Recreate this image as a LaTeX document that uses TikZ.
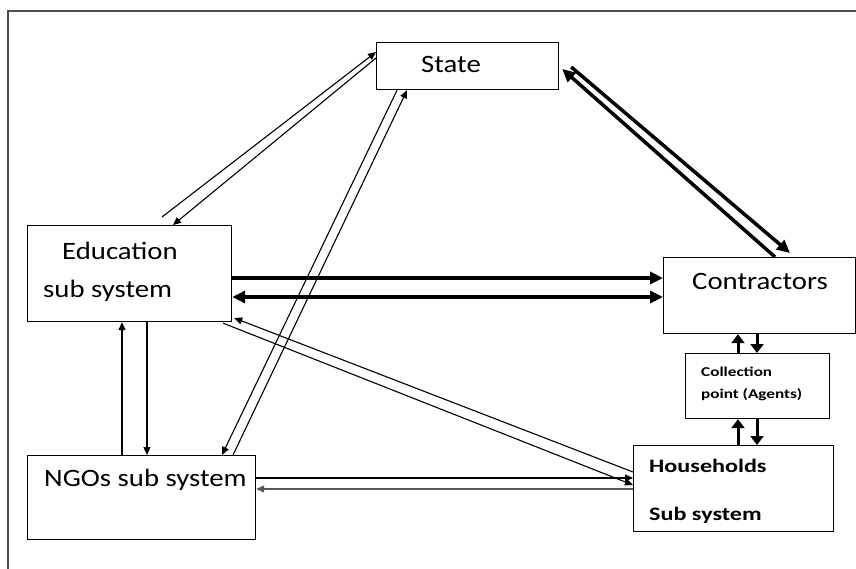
\documentclass[tikz,border=0pt]{standalone}
\usepackage{fontspec}
\setmainfont[FakeStretch=1.15]{Carlito}
\newfontfamily\widefont[FakeStretch=1.27]{Carlito}
\usetikzlibrary{arrows.meta}

\begin{document}
\begin{tikzpicture}[x=1pt, y=-1pt,
  box/.style={draw, line width=1.2pt, inner sep=0pt, anchor=north west},
  lbl/.style={anchor=base west, inner sep=0pt, font=\fontsize{25}{30}\selectfont},
  blbl/.style={anchor=base west, inner sep=0pt, font=\widefont\bfseries\fontsize{19}{23}\selectfont},
  slbl/.style={anchor=base west, inner sep=0pt, font=\widefont\bfseries\fontsize{13.5}{16}\selectfont},
  thin/.style={line width=1.1pt, -{Triangle[length=8pt,width=7pt]}},
  thick/.style={line width=3.5pt, -{Triangle[length=13pt,width=12pt]}},
  stub/.style={line width=3pt, -{Triangle[length=9pt,width=13pt]}}]
  \useasboundingbox (0,0) rectangle (856,569);
  \draw[gray!60!black, line width=2pt] (8,569) |- (856,11);

  % boxes
  \node[box, minimum width=182pt, minimum height=47pt] (state) at (376,42) {};
  \node[box, minimum width=204pt, minimum height=96pt] (edu) at (27,225) {};
  \node[box, minimum width=192pt, minimum height=76pt] (contr) at (663,257) {};
  \node[box, minimum width=144pt, minimum height=65pt] (coll) at (685,353) {};
  \node[box, minimum width=200pt, minimum height=86pt] (hh) at (633,445) {};
  \node[box, minimum width=228pt, minimum height=84pt] (ngo) at (27,455) {};

  % texts
  \node[lbl] (state-t) at (421,73) {State};
  \node[lbl] (edu-t1) at (62,260) {Education};
  \node[lbl] (edu-t2) at (43,297) {sub system};
  \node[lbl] (contr-t) at (692,289) {Contractors};
  \node[lbl] (ngo-t) at (44,486) {NGOs sub system};
  \node[slbl] (coll-t1) at (701,376) {Collection};
  \node[slbl] (coll-t2) at (701,398) {point (Agents)};
  \node[blbl] (hh-t1) at (649,472) {Households};
  \node[blbl] (hh-t2) at (649,520) {Sub system};

  % state links
  \draw[thin] ([xshift=135pt,yshift=8pt]edu.north west) -- ([yshift=-10pt]state.north west);
  \draw[thin] ([yshift=-16pt]state.north west) -- ([xshift=146pt]edu.north west);
  \draw[thin] ([xshift=21pt]state.south west) -- ([xshift=195pt]ngo.north west);
  \draw[thin] ([xshift=206pt]ngo.north west) -- ([xshift=31pt]state.south west);
  \draw[thick] ([xshift=12pt,yshift=-25pt]state.north east) -- ([xshift=127pt,yshift=4pt]contr.north west);
  \draw[thick] ([xshift=112pt]contr.north west) -- ([xshift=3pt,yshift=-27pt]state.north east);

  % education links
  \draw[thick] ([yshift=-53pt]edu.north east) -- ([yshift=-21pt]contr.north west);
  \draw[thick, {Triangle[length=13pt,width=12pt]}-{Triangle[length=13pt,width=12pt]}]
    ([yshift=-72pt]edu.north east) -- ([yshift=-40pt]contr.north west);
  \draw[thin] ([xshift=-9pt,yshift=-1pt]edu.south east) -- ([yshift=-40pt]hh.north west);
  \draw[thin] ([yshift=-27pt]hh.north west) -- ([xshift=2pt,yshift=-93pt]edu.north east);
  \draw[thin] ([xshift=95pt]ngo.north west) -- ([xshift=95pt]edu.south west);
  \draw[thin] ([xshift=120pt]edu.south west) -- ([xshift=120pt]ngo.north west);

  % households links
  \draw[thin] ([yshift=-23pt]ngo.north east) -- ([yshift=-33pt]hh.north west);
  \draw[thin, gray!70!black] ([yshift=-44pt]hh.north west) -- ([yshift=-34pt]ngo.north east);
  \draw[stub] ([xshift=53pt]coll.north west) -- ([xshift=75pt]contr.south west);
  \draw[stub] ([xshift=94pt]contr.south west) -- ([xshift=72pt]coll.north west);
  \draw[stub] ([xshift=105pt]hh.north west) -- ([xshift=53pt]coll.south west);
  \draw[stub] ([xshift=72pt]coll.south west) -- ([xshift=124pt]hh.north west);
\end{tikzpicture}
\end{document}
